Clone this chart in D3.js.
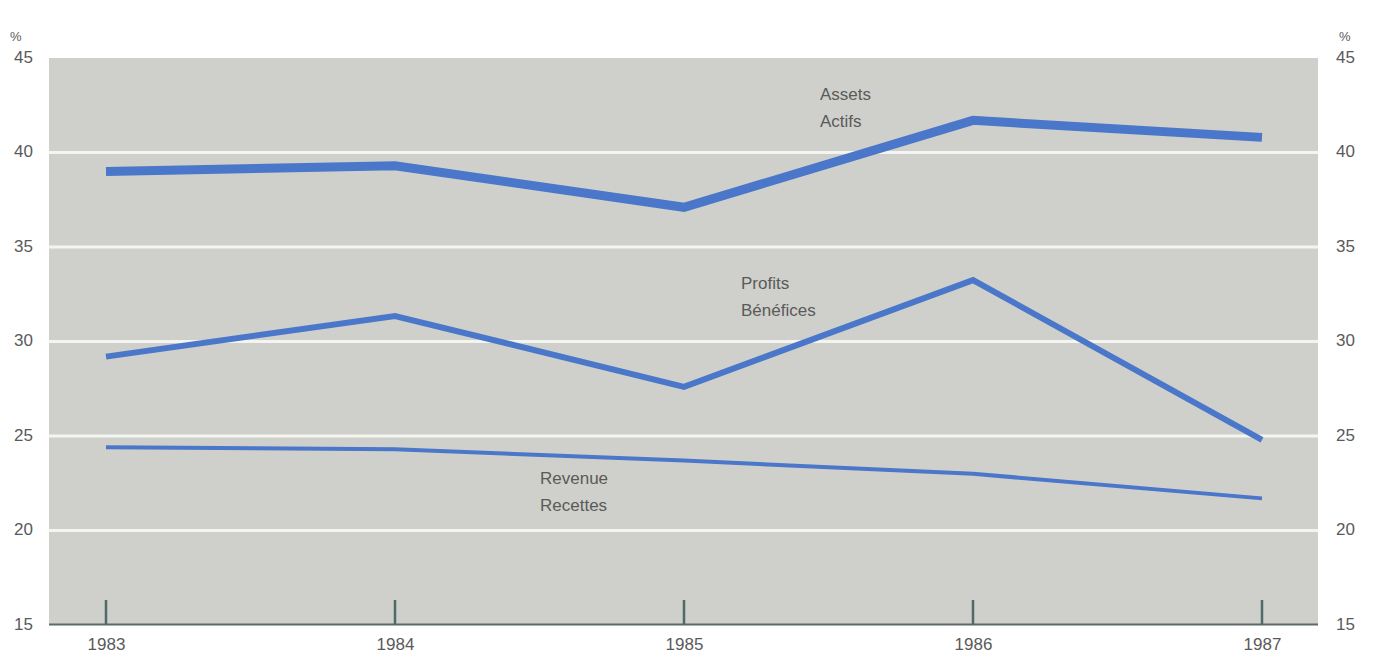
<!DOCTYPE html>
<html><head><meta charset="utf-8">
<script src="https://cdn.jsdelivr.net/npm/d3@7"></script>
<style>body{margin:0;background:#fff;}svg{display:block;}</style>
</head><body>
<svg id="c" width="1373" height="656"></svg>
<script>
const years = [1983, 1984, 1985, 1986, 1987];
const assets = [39.0, 39.3, 37.1, 41.7, 40.8];
const profits = [29.2, 31.35, 27.6, 33.25, 24.8];
const revenue = [24.4, 24.3, 23.7, 23.0, 21.7];
const yTicks = [15, 20, 25, 30, 35, 40, 45];
const gridTicks = [20, 25, 30, 35, 40];
const labelsAssets = ["Assets", "Actifs"];
const labelsProfits = ["Profits", "Bénéfices"];
const labelsRevenue = ["Revenue", "Recettes"];

const svg = d3.select("#c");
const L = 49, R = 1318, T = 58, B = 625;
const x = d3.scaleLinear().domain([1983, 1987]).range([106, 1262]);
const y = d3.scaleLinear().domain([15, 45]).range([B, T]);
const font = "'Liberation Sans', Arial, sans-serif";
const textCol = "#5a5a5a";

svg.append("rect").attr("x", L).attr("y", T).attr("width", R - L).attr("height", B - T).attr("fill", "#cfd0cb");

svg.selectAll(".grid").data(gridTicks).enter().append("line")
  .attr("x1", L).attr("x2", R).attr("y1", d => y(d)).attr("y2", d => y(d))
  .attr("stroke", "#f4f5f0").attr("stroke-width", 3);

// bottom axis
const xAxis = d3.axisBottom(x).tickValues(years).tickFormat(d3.format("d")).tickSize(0).tickPadding(13);
const gx = svg.append("g").attr("transform", `translate(0,${B})`).call(xAxis);
gx.select(".domain").remove();
gx.selectAll("text").attr("font-family", font).attr("font-size", 17).attr("fill", textCol);
svg.append("line").attr("x1", L).attr("x2", R).attr("y1", B - 0.5).attr("y2", B - 0.5).attr("stroke", "#5d6b68").attr("stroke-width", 2);
svg.selectAll(".tk").data(years).enter().append("line")
  .attr("x1", d => x(d)).attr("x2", d => x(d)).attr("y1", B - 25).attr("y2", B)
  .attr("stroke", "#4f6a68").attr("stroke-width", 2.5);

// left & right axes
const yl = d3.axisLeft(y).tickValues(yTicks).tickSize(0).tickPadding(0);
const gl = svg.append("g").attr("transform", `translate(33,-1)`).call(yl);
gl.select(".domain").remove();
gl.selectAll("text").attr("font-family", font).attr("font-size", 17).attr("fill", textCol);
const yr = d3.axisRight(y).tickValues(yTicks).tickSize(0).tickPadding(0);
const gr = svg.append("g").attr("transform", `translate(1336,-1)`).call(yr);
gr.select(".domain").remove();
gr.selectAll("text").attr("font-family", font).attr("font-size", 17).attr("fill", textCol);

svg.append("text").attr("x", 10).attr("y", 41).text("%").attr("font-family", font).attr("font-size", 13).attr("fill", textCol);
svg.append("text").attr("x", 1339).attr("y", 41).text("%").attr("font-family", font).attr("font-size", 13).attr("fill", textCol);

const line = d3.line().x((d, i) => x(years[i])).y(d => y(d));
const blue = "#4a77c9";
svg.append("path").attr("d", line(revenue)).attr("fill", "none").attr("stroke", blue).attr("stroke-width", 4);
svg.append("path").attr("d", line(profits)).attr("fill", "none").attr("stroke", blue).attr("stroke-width", 6);
svg.append("path").attr("d", line(assets)).attr("fill", "none").attr("stroke", blue).attr("stroke-width", 9);

function lbl(lines, x0, y0) {
  svg.selectAll(null).data(lines).enter().append("text")
    .attr("x", x0).attr("y", (d, i) => y0 + i * 27).text(d => d)
    .attr("font-family", font).attr("font-size", 17).attr("fill", textCol);
}
lbl(labelsAssets, 820, 100);
lbl(labelsProfits, 741, 289);
lbl(labelsRevenue, 540, 484);
</script>
</body></html>
